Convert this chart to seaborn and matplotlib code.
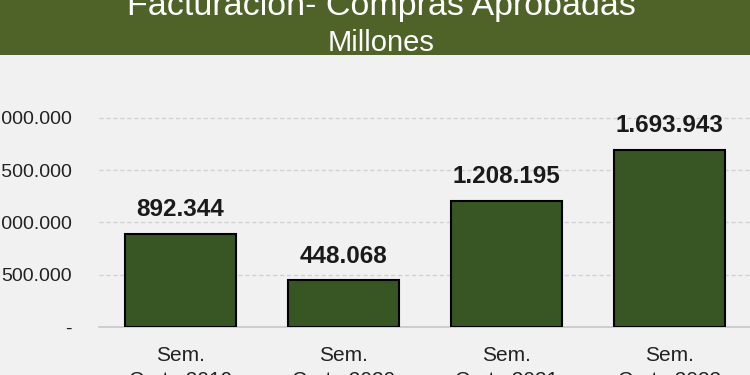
import numpy as np
import matplotlib
matplotlib.use("Agg")
import matplotlib.pyplot as plt
import seaborn as sns
from matplotlib.ticker import FuncFormatter
from matplotlib.patches import Rectangle

periodos = ["Sem.\nCorte 2019", "Sem.\nCorte 2020", "Sem.\nCorte 2021", "Sem.\nCorte 2022"]
valores = [892344, 448068, 1208195, 1693943]
yticks = [0, 500000, 1000000, 1500000, 2000000]


def miles(v, pos=None):
    if v == 0:
        return "-"
    return f"{int(round(v)):,}".replace(",", ".")


sns.set_style("white")
plt.rcParams['font.family'] = ['Liberation Sans', 'DejaVu Sans']

fig = plt.figure(figsize=(7.5, 3.75), dpi=100)
fig.patch.set_facecolor('#f1f1f1')

# green title band
fig.patches.append(Rectangle((0, 1 - 55/375), 1, 55/375, transform=fig.transFigure,
                             facecolor='#4f6228', edgecolor='none', zorder=0))
fig.text(0.508, 1 - 15/375, "Facturación- Compras Aprobadas", ha='center', va='baseline',
         color='white', fontsize=24.5)
fig.text(0.508, 1 - 51/375, "Millones", ha='center', va='baseline',
         color='white', fontsize=21)

ax = fig.add_axes([99/750, 48/375, 652/750, 251/375])
ax.set_facecolor('none')

sns.barplot(x=periodos, y=valores, color='#375623', edgecolor='black', linewidth=1.5,
            width=0.675, saturation=1, ax=ax, zorder=3)

ax.set_xlim(-0.5, 3.5)
ax.set_ylim(0, 2400000)
ax.set_yticks(yticks)
ax.yaxis.set_major_formatter(FuncFormatter(miles))
ax.yaxis.grid(True, linestyle=(0, (3, 2)), color='#d2d2d2', linewidth=1, zorder=0)
for s in ['top', 'right', 'left']:
    ax.spines[s].set_visible(False)
ax.spines['bottom'].set_color('#c8c8c8')
ax.spines['bottom'].set_linewidth(1.2)
ax.tick_params(axis='y', length=0, pad=19.5, labelsize=14, labelcolor='#222222')
ax.tick_params(axis='x', length=0, pad=14, labelsize=15, labelcolor='#222222')
for lbl in ax.get_xticklabels():
    lbl.set_linespacing(1.4)

ax.bar_label(ax.containers[0], labels=[miles(v) for v in valores], padding=9,
             fontsize=17.5, fontweight='bold', color='#1a1a1a')

fig.savefig("out.png", dpi=100, facecolor=fig.get_facecolor())
